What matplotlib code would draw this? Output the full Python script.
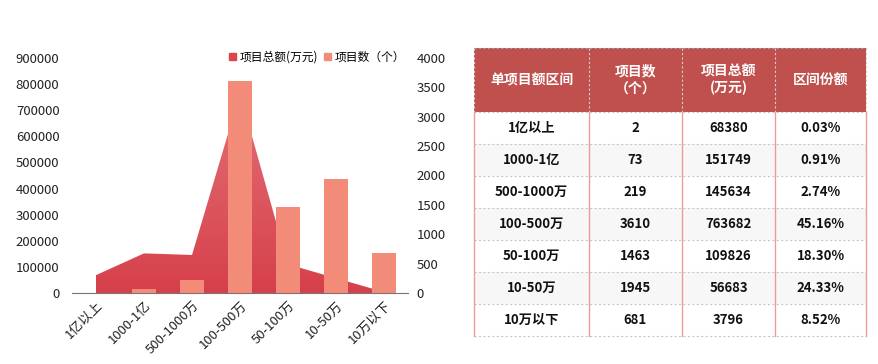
import numpy as np
import matplotlib.pyplot as plt
from matplotlib.patches import Rectangle, Patch
from matplotlib.lines import Line2D
from matplotlib.colors import LinearSegmentedColormap

plt.rcParams['font.family'] = ['Noto Sans CJK SC', 'DejaVu Sans']

categories = ['1亿以上', '1000-1亿', '500-1000万', '100-500万', '50-100万', '10-50万', '10万以下']
counts = [2, 73, 219, 3610, 1463, 1945, 681]
amounts = [68380, 151749, 145634, 763682, 109826, 56683, 3796]
shares = ['0.03%', '0.91%', '2.74%', '45.16%', '18.30%', '24.33%', '8.52%']
headers = ['单项目额区间', '项目数\n（个）', '项目总额\n(万元)', '区间份额']

W, H = 879, 364
fig = plt.figure(figsize=(W / 100, H / 100), dpi=100)

def fx(px):
    return px / W

def fy(py):
    return 1 - py / H

# ---- chart ----
ax1 = fig.add_axes([fx(72), fy(293), fx(408) - fx(72), fy(58) - fy(293)])
ax2 = ax1.twinx()
x = np.arange(len(categories))

# area with vertical gradient
poly = ax1.fill_between(x, amounts, 0, color='#D9464D', lw=0)
grad = np.linspace(0, 1, 256).reshape(-1, 1)
cmap = LinearSegmentedColormap.from_list('g', ['#D6404A', '#E37078'])
img = ax1.imshow(grad, cmap=cmap, origin='lower', aspect='auto',
                 extent=[x[0], x[-1], 0, max(amounts)], zorder=1)
img.set_clip_path(poly.get_paths()[0], transform=ax1.transData)
poly.set_visible(False)

ax1.set_xlim(-0.5, len(categories) - 0.5)
ax1.set_ylim(0, 900000)
ax1.set_yticks(np.arange(0, 900001, 100000))
ax1.set_xticks(x)
ax1.set_xticklabels(categories, rotation=45, ha='right', rotation_mode='anchor')

ax2.bar(x, counts, width=0.5, color='#F28C78', zorder=2)
ax2.set_ylim(0, 4000)
ax2.set_yticks(np.arange(0, 4001, 500))

for a in (ax1, ax2):
    for s in a.spines.values():
        s.set_visible(False)
    a.tick_params(length=0, labelsize=9.5, colors='#222222', pad=6)
ax1.spines['bottom'].set_visible(True)
ax1.spines['bottom'].set_color('#777777')
ax1.tick_params(axis='x', pad=4)
ax1.tick_params(axis='y', pad=9)
ax2.tick_params(axis='y', pad=6)

handles = [Patch(color='#D9464D'), Patch(color='#F28C78')]
fig.legend(handles, ['项目总额(万元)', '项目数（个）'], loc='center right',
           bbox_to_anchor=(fx(410), fy(57)), ncol=2, frameon=False,
           fontsize=8.5, handlelength=0.6, handleheight=0.6,
           handletextpad=0.3, columnspacing=0.5, borderaxespad=0)

# ---- table ----
col_x = [474, 589, 682, 775, 866]
row_y = [48, 112] + [112 + 32 * (i + 1) for i in range(len(categories))]

tab = fig.add_axes([0, 0, 1, 1])
tab.set_xlim(0, W)
tab.set_ylim(H, 0)
tab.axis('off')

tab.add_patch(Rectangle((col_x[0], row_y[0]), col_x[-1] - col_x[0], row_y[1] - row_y[0],
                        facecolor='#C0504D', edgecolor='none'))
for i in range(len(categories)):
    if i % 2 == 1:
        tab.add_patch(Rectangle((col_x[0], row_y[i + 1]), col_x[-1] - col_x[0], 32,
                                facecolor='#F7F7F7', edgecolor='none'))

# header borders (dashed)
for cx in col_x:
    tab.add_line(Line2D([cx, cx], [row_y[0], row_y[1]], color='#D0D0D0', lw=0.8, ls=(0, (2, 2))))
tab.add_line(Line2D([col_x[0], col_x[-1]], [row_y[0], row_y[0]], color='#A0A0A0', lw=0.8, ls=(0, (2, 2))))
# body horizontal dashed lines
for ry in row_y[1:]:
    tab.add_line(Line2D([col_x[0], col_x[-1]], [ry, ry], color='#C8C8C8', lw=0.8, ls=(0, (2, 2))))
# body vertical lines
for cx in col_x:
    tab.add_line(Line2D([cx, cx], [row_y[1], row_y[-1]], color='#EE9A9A', lw=1.0))

for j, h in enumerate(headers):
    tab.text((col_x[j] + col_x[j + 1]) / 2, (row_y[0] + row_y[1]) / 2, h,
             ha='center', va='center', color='white', fontsize=10,
             fontweight='bold', linespacing=1.25)

for i in range(len(categories)):
    cy = (row_y[i + 1] + row_y[i + 2]) / 2
    vals = [categories[i], str(counts[i]), str(amounts[i]), shares[i]]
    for j, v in enumerate(vals):
        tab.text((col_x[j] + col_x[j + 1]) / 2, cy, v, ha='center', va='center',
                 color='#111111', fontsize=9.5, fontweight='bold')

fig.savefig('out.png', dpi=100)
